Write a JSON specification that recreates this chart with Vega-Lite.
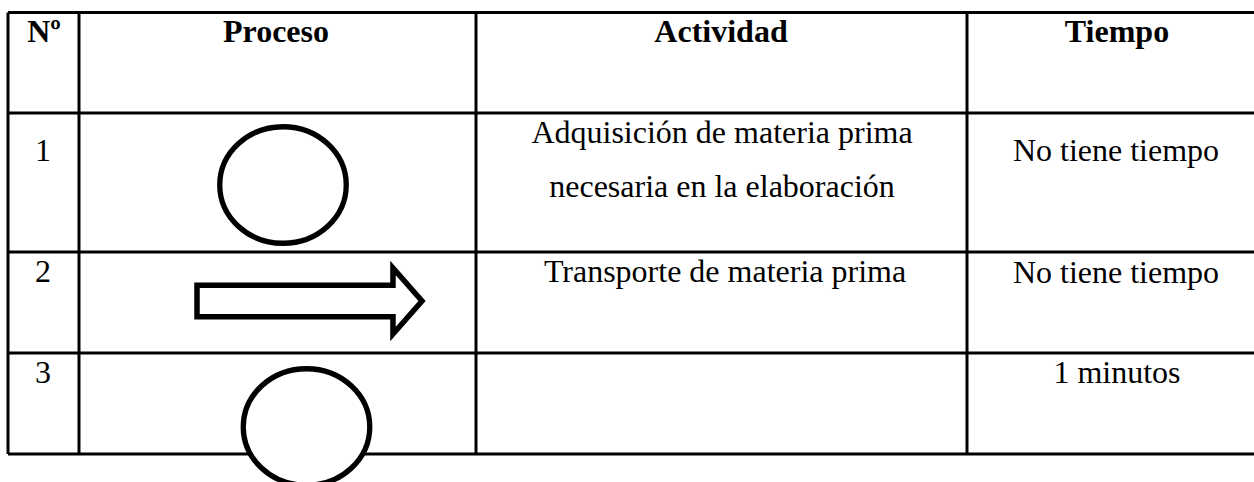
{
  "$schema": "https://vega.github.io/schema/vega-lite/v6.json",
  "width": 1254,
  "height": 482,
  "autosize": {"type": "none"},
  "padding": 0,
  "background": "white",
  "config": {"view": {"stroke": null}},
  "datasets": {
    "grid": [
      {"line": "top", "x": 8, "x2": 1268, "y": 12.5, "y2": 12.5},
      {"line": "header", "x": 8, "x2": 1268, "y": 113, "y2": 113},
      {"line": "row1", "x": 8, "x2": 1268, "y": 252, "y2": 252},
      {"line": "row2", "x": 8, "x2": 1268, "y": 353, "y2": 353},
      {"line": "bottom", "x": 8, "x2": 1268, "y": 454, "y2": 454},
      {"line": "left", "x": 8, "x2": 8, "y": 12.5, "y2": 454},
      {"line": "N|Proceso", "x": 79, "x2": 79, "y": 12.5, "y2": 454},
      {"line": "Proceso|Actividad", "x": 476, "x2": 476, "y": 12.5, "y2": 454},
      {"line": "Actividad|Tiempo", "x": 967, "x2": 967, "y": 12.5, "y2": 454},
      {"line": "right", "x": 1268, "x2": 1268, "y": 12.5, "y2": 454}
    ],
    "header": [
      {"text": "Nº", "x": 44, "y": 42},
      {"text": "Proceso", "x": 276, "y": 42},
      {"text": "Actividad", "x": 721, "y": 42},
      {"text": "Tiempo", "x": 1117, "y": 42}
    ],
    "body": [
      {"text": "1", "x": 43, "y": 161},
      {"text": "Adquisición de materia prima", "x": 722, "y": 143},
      {"text": "necesaria en la elaboración", "x": 722, "y": 197},
      {"text": "No tiene tiempo", "x": 1116, "y": 161},
      {"text": "2", "x": 43, "y": 282},
      {"text": "Transporte de materia prima", "x": 725, "y": 282},
      {"text": "No tiene tiempo", "x": 1116, "y": 283},
      {"text": "3", "x": 43, "y": 383},
      {"text": "1 minutos", "x": 1117, "y": 383}
    ],
    "symbols": [
      {"row": 1, "symbol": "operación", "x": 283, "y": 185},
      {"row": 2, "symbol": "transporte", "x": 309.5, "y": 301},
      {"row": 3, "symbol": "operación", "x": 306.5, "y": 427}
    ]
  },
  "layer": [
    {
      "data": {"name": "grid"},
      "mark": {"type": "rule", "color": "black", "strokeWidth": 3},
      "encoding": {
        "x": {"field": "x", "type": "quantitative", "scale": {"domain": [0, 1254], "nice": false, "zero": false}, "axis": null},
        "x2": {"field": "x2"},
        "y": {"field": "y", "type": "quantitative", "scale": {"domain": [0, 482], "nice": false, "zero": false, "reverse": true}, "axis": null},
        "y2": {"field": "y2"}
      }
    },
    {
      "data": {"name": "symbols"},
      "transform": [{"filter": "datum.symbol === 'operación'"}],
      "mark": {"type": "point", "filled": true, "fill": "white", "stroke": "black", "strokeWidth": 5.3, "opacity": 1, "fillOpacity": 1, "strokeOpacity": 1, "size": 16002, "shape": "M -1 0 A 1 0.921 0 1 0 1 0 A 1 0.921 0 1 0 -1 0 Z"},
      "encoding": {
        "x": {"field": "x", "type": "quantitative", "axis": null},
        "y": {"field": "y", "type": "quantitative", "axis": null}
      }
    },
    {
      "data": {"name": "symbols"},
      "transform": [{"filter": "datum.symbol === 'transporte'"}],
      "mark": {"type": "point", "filled": true, "fill": "white", "stroke": "black", "strokeWidth": 5.5, "opacity": 1, "fillOpacity": 1, "strokeOpacity": 1, "size": 50625, "shape": "M -1 -0.14 L 0.742 -0.14 L 0.742 -0.293 L 1 0 L 0.742 0.293 L 0.742 0.14 L -1 0.14 Z"},
      "encoding": {
        "x": {"field": "x", "type": "quantitative", "axis": null},
        "y": {"field": "y", "type": "quantitative", "axis": null}
      }
    },
    {
      "data": {"name": "header"},
      "mark": {"type": "text", "font": "Liberation Serif", "fontSize": 32, "fontWeight": "bold", "align": "center", "baseline": "alphabetic", "color": "black"},
      "encoding": {
        "x": {"field": "x", "type": "quantitative", "axis": null},
        "y": {"field": "y", "type": "quantitative", "axis": null},
        "text": {"field": "text"}
      }
    },
    {
      "data": {"name": "body"},
      "mark": {"type": "text", "font": "Liberation Serif", "fontSize": 32, "align": "center", "baseline": "alphabetic", "color": "black"},
      "encoding": {
        "x": {"field": "x", "type": "quantitative", "axis": null},
        "y": {"field": "y", "type": "quantitative", "axis": null},
        "text": {"field": "text"}
      }
    }
  ]
}
